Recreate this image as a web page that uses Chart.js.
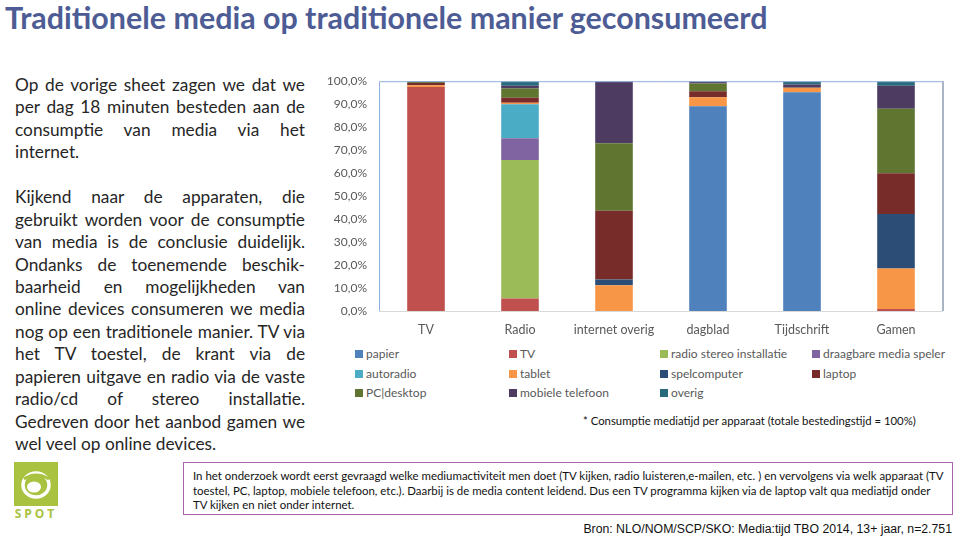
<!DOCTYPE html>
<html>
<head>
<meta charset="utf-8">
<script src="https://cdn.jsdelivr.net/npm/chart.js@4.4.1/dist/chart.umd.min.js"></script>
<style>
  html, body { margin: 0; padding: 0; background: #fff; }
  body { width: 959px; height: 538px; position: relative; overflow: hidden; font-family: Lato, "Open Sans", sans-serif; }
  #title { position: absolute; left: 5px; top: 0px; font-weight: bold; color: #4d5c94; white-space: nowrap; font-size: 27px; line-height: 34px; }
  #intro { position: absolute; left: 15px; top: 74px; width: 290px; color: #262626; }
  #intro div { height: 22.45px; line-height: 22.45px; text-align: justify; text-align-last: justify; white-space: nowrap; }
  #intro div.last { text-align-last: left; }
  #wrap { position: absolute; left: 310px; top: 62px; width: 645px; height: 280px; }
  #legend { position: absolute; left: 0; top: 0; font-size: 12px; color: #595959; }
  .li { position: absolute; white-space: nowrap; line-height: 14px; }
  .li i { display: inline-block; width: 8px; height: 8px; margin-right: 3px; vertical-align: 0px; }
  #note { position: absolute; left: 583px; top: 414px; font-size: 11px; color: #111; white-space: nowrap; }
  #box { position: absolute; left: 183px; top: 462px; width: 770px; height: 53px; border: 1px solid #a764a9; box-sizing: border-box; }
  #box div { position: absolute; left: 9px; white-space: nowrap; font-size: 10.5px; color: #111; line-height: 14px; }
  #bron { position: absolute; top: 522px; right: 7px; font-family: "Liberation Sans", Arial, sans-serif; font-size: 12px; white-space: nowrap; color: #111; }
  #logo { position: absolute; left: 14px; top: 462px; width: 44px; height: 44px; background: #a9c23f; }
  #spot { position: absolute; left: 14px; top: 505px; width: 44px; text-align: center; color: #a9c23f; font-size: 12px; font-weight: bold; letter-spacing: 3px; font-family: "Open Sans", sans-serif; }
</style>
</head>
<body>
<div id="title">Traditionele media op traditionele manier geconsumeerd</div>

<div id="intro">
  <div>Op de vorige sheet zagen we dat we</div>
  <div>per dag 18 minuten besteden aan de</div>
  <div>consumptie van media via het</div>
  <div class="last">internet.</div>
  <div class="last"></div>
  <div>Kijkend naar de apparaten, die</div>
  <div>gebruikt worden voor de consumptie</div>
  <div>van media is de conclusie duidelijk.</div>
  <div>Ondanks de toenemende beschik-</div>
  <div>baarheid en mogelijkheden van</div>
  <div>online devices consumeren we media</div>
  <div>nog op een traditionele manier. TV via</div>
  <div>het TV toestel, de krant via de</div>
  <div>papieren uitgave en radio via de vaste</div>
  <div>radio/cd of stereo installatie.</div>
  <div>Gedreven door het aanbod gamen we</div>
  <div class="last">wel veel op online devices.</div>
</div>

<div id="wrap"><canvas id="chart" width="645" height="280"></canvas></div>
<div id="legend"></div>

<div id="note">* Consumptie mediatijd per apparaat (totale bestedingstijd = 100%)</div>

<div id="box">
  <div id="b1" style="top:6px">In het onderzoek wordt eerst gevraagd welke mediumactiviteit men doet (TV kijken, radio luisteren,e-mailen, etc. ) en vervolgens via welk apparaat (TV</div>
  <div id="b2" style="top:21px">toestel, PC, laptop, mobiele telefoon, etc.). Daarbij is de media content  leidend. Dus een TV programma kijken via de laptop valt qua mediatijd onder</div>
  <div id="b3" style="top:35px">TV kijken en niet onder internet.</div>
</div>

<div id="bron">Bron: NLO/NOM/SCP/SKO: Media:tijd TBO 2014, 13+ jaar, n=2.751</div>

<div id="logo">
  <svg width="44" height="44" viewBox="0 0 44 44">
    <ellipse cx="22" cy="23" rx="13" ry="12" fill="none" stroke="#fff" stroke-width="3.5"/>
    <ellipse cx="20" cy="25" rx="7" ry="5.5" fill="#fff"/>
    <path d="M10 17 Q22 9 35 17" fill="none" stroke="#a9c23f" stroke-width="3"/>
  </svg>
</div>
<div id="spot">SPOT</div>

<script>
const categories = ["TV", "Radio", "internet overig", "dagblad", "Tijdschrift", "Gamen"];

const seriesNames = ["papier", "TV", "radio stereo installatie", "draagbare media speler",
  "autoradio", "tablet", "spelcomputer", "laptop", "PC|desktop", "mobiele telefoon", "overig"];

const seriesColors = ["#4f81bd", "#c0504d", "#9bbb59", "#8064a2", "#4bacc6", "#f79646",
  "#2c4d75", "#772c2a", "#5f7530", "#4d3b62", "#276a7c"];

// share of media time per device, in %
const papier      = [0,    0,    0,    89.1, 95.2, 0];
const tv          = [97.5, 5.4,  0,    0,    0,    0.9];
const radioStereo = [0,    60.3, 0,    0,    0,    0];
const draagbare   = [0,    9.5,  0,    0,    0,    0];
const autoradio   = [0,    14.8, 0,    0,    0,    0];
const tablet      = [0.7,  0.6,  11.2, 3.9,  1.9,  17.6];
const spelcomp    = [0,    0,    2.5,  0,    0,    23.7];
const laptop      = [1.0,  2.2,  29.9, 2.6,  0,    17.7];
const pcDesktop   = [0.5,  4.0,  29.4, 3.4,  0,    28.1];
const mobiel      = [0.3,  1.2,  27.0, 1.0,  1.5,  10.0];
const overig      = [0,    2.0,  0,    0,    1.4,  2.0];

const seriesValues = [papier, tv, radioStereo, draagbare, autoradio, tablet,
  spelcomp, laptop, pcDesktop, mobiel, overig];

const yTicks = [0, 10, 20, 30, 40, 50, 60, 70, 80, 90, 100];

/* ===============================
   TEXT FITTING
   =============================== */
function naturalWidth(el) {
  const s = document.createElement("span");
  s.style.whiteSpace = "nowrap";
  s.style.font = getComputedStyle(el).font;
  s.textContent = el.textContent;
  document.body.appendChild(s);
  const w = s.getBoundingClientRect().width;
  s.remove();
  return w;
}

function fitTo(el, target) {
  const fs = parseFloat(getComputedStyle(el).fontSize);
  el.style.fontSize = (fs * target / naturalWidth(el)) + "px";
}

fitTo(document.getElementById("title"), 763);
fitTo(document.getElementById("note"), 333);
fitTo(document.getElementById("bron"), 369);
fitTo(document.getElementById("b1"), 752);
const boxSize = document.getElementById("b1").style.fontSize;
document.getElementById("b2").style.fontSize = boxSize;
document.getElementById("b3").style.fontSize = boxSize;

// left paragraph: pick one size so the longest line just fits
const intro = document.getElementById("intro");
intro.style.fontSize = "16px";
let widest = 0;
intro.querySelectorAll("div").forEach(d => { widest = Math.max(widest, naturalWidth(d)); });
intro.style.fontSize = (16 * 287 / widest) + "px";

/* ===============================
   LEGEND
   =============================== */
const legendCols = [355, 509, 660, 812];
const legendRows = [347, 366.5, 386];
const legend = document.getElementById("legend");
seriesNames.forEach((name, i) => {
  const item = document.createElement("div");
  item.className = "li";
  item.style.left = legendCols[i % 4] + "px";
  item.style.top = legendRows[Math.floor(i / 4)] + "px";
  item.innerHTML = `<i style="background:${seriesColors[i]}"></i>${name}`;
  legend.appendChild(item);
});

/* ===============================
   CHART
   =============================== */
const plotFrame = {
  id: "plotFrame",
  afterDraw(c) {
    const a = c.chartArea, ctx = c.ctx;
    ctx.save();
    ctx.lineWidth = 1;
    ctx.strokeStyle = "#8fb1dc";
    ctx.beginPath();
    ctx.moveTo(a.left + 0.5, a.bottom);
    ctx.lineTo(a.left + 0.5, a.top + 0.5);
    ctx.lineTo(a.right, a.top + 0.5);
    ctx.stroke();
    ctx.strokeStyle = "#a9b5c4";
    ctx.lineWidth = 2;
    ctx.beginPath();
    ctx.moveTo(a.right, a.top);
    ctx.lineTo(a.right, a.bottom);
    ctx.stroke();
    ctx.strokeStyle = "#d9d9d9";
    ctx.lineWidth = 1;
    ctx.beginPath();
    ctx.moveTo(a.left, a.bottom + 0.5);
    ctx.lineTo(a.right, a.bottom + 0.5);
    ctx.stroke();
    ctx.restore();
  }
};

new Chart(document.getElementById("chart"), {
  type: "bar",
  data: {
    labels: categories,
    datasets: seriesNames.map((name, i) => ({
      label: name,
      data: seriesValues[i],
      backgroundColor: seriesColors[i],
      borderWidth: 0,
      categoryPercentage: 1,
      barPercentage: 0.4
    }))
  },
  options: {
    responsive: false,
    animation: false,
    layout: { padding: { top: 3, right: 12, left: 0, bottom: 0 } },
    plugins: {
      legend: { display: false },
      tooltip: { enabled: false }
    },
    scales: {
      x: {
        stacked: true,
        grid: { display: false, drawTicks: false },
        border: { display: false },
        ticks: { color: "#595959", font: { family: "Lato", size: 12.5 }, padding: 11, maxRotation: 0, autoSkip: false },
        afterFit: s => { s.height = 31; }
      },
      y: {
        stacked: true,
        min: 0,
        max: 100,
        afterBuildTicks: s => { s.ticks = yTicks.map(v => ({ value: v })); },
        grid: { display: false, drawTicks: false },
        border: { display: false },
        ticks: {
          color: "#595959",
          font: { family: "Lato", size: 12 },
          padding: 12,
          callback: v => v.toFixed(1).replace(".", ",") + "%"
        },
        afterFit: s => { s.width = 69; }
      }
    }
  },
  plugins: [plotFrame]
});
</script>
</body>
</html>
